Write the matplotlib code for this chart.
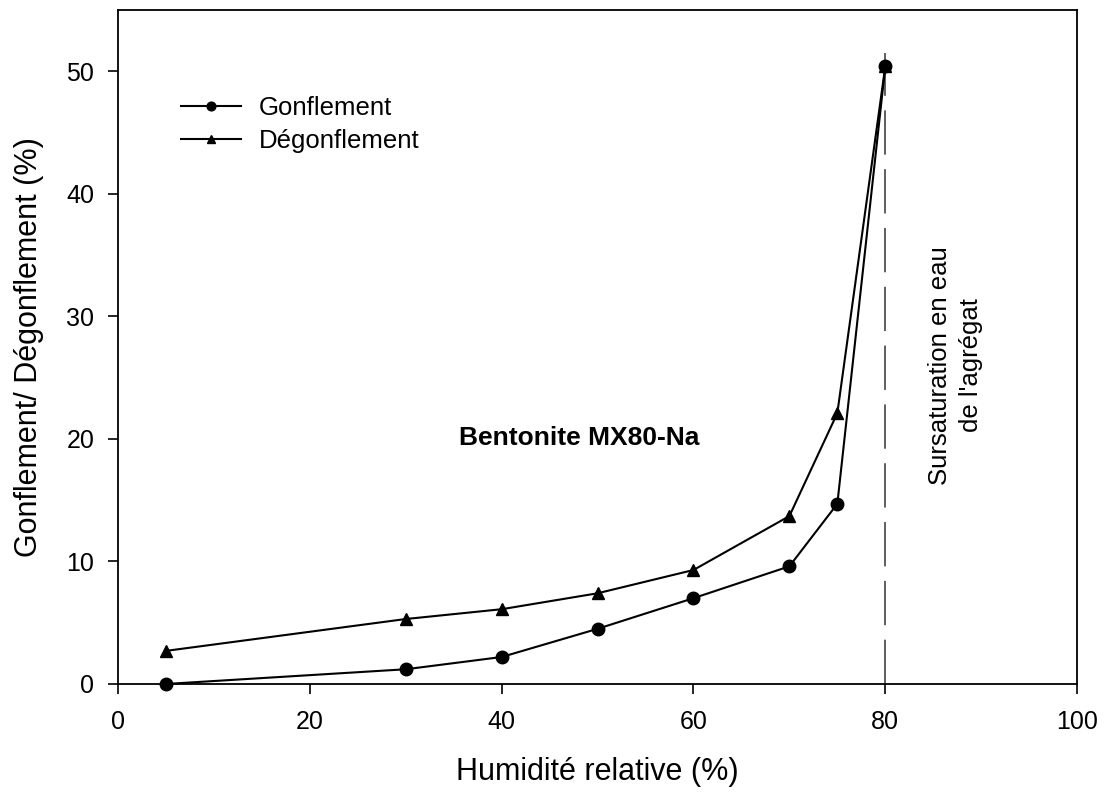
import matplotlib
matplotlib.use("Agg")
from matplotlib import pyplot as plt

plt.rcParams["font.family"] = ["Liberation Sans", "DejaVu Sans"]

# humidité relative (%) et gonflement / dégonflement (%)
hr = [5, 30, 40, 50, 60, 70, 75, 80]
gonflement = [0.0, 1.2, 2.2, 4.5, 7.0, 9.6, 14.7, 50.4]
degonflement = [2.7, 5.3, 6.1, 7.4, 9.3, 13.7, 22.1, 50.4]

fig = plt.figure(figsize=(11.07, 7.98), dpi=100)
ax = fig.add_axes([0.1066, 0.1429, 0.8664, 0.8446])

ax.plot(hr, gonflement, color="black", lw=1.5, marker="o", ms=9,
        label="Gonflement", clip_on=False, zorder=3)
ax.plot(hr, degonflement, color="black", lw=1.5, marker="^", ms=9,
        label="Dégonflement", clip_on=False, zorder=3)

# limite de sursaturation
ax.plot([80, 80], [0, 51.5], color="#333333", lw=1.1, linestyle=(0, (29, 9.5)), zorder=1)

ax.set_xlim(0, 100)
ax.set_ylim(0, 55)
ax.set_xticks([0, 20, 40, 60, 80, 100])
ax.set_yticks([0, 10, 20, 30, 40, 50])
ax.tick_params(direction="out", length=7, width=1.2, labelsize=18,
               top=False, right=False)
ax.tick_params(axis="x", pad=12)
ax.tick_params(axis="y", pad=10)
for s in ax.spines.values():
    s.set_linewidth(1.3)

ax.set_xlabel("Humidité relative (%)", fontsize=22, labelpad=16)
ax.set_ylabel("Gonflement/ Dégonflement (%)", fontsize=22, labelpad=16)

ax.text(35.6, 20.1, "Bentonite MX80-Na", fontsize=19, fontweight="bold",
        ha="left", va="center")
ax.text(87.3, 26.0, "Sursaturation en eau\nde l'agrégat", fontsize=18.5,
        rotation=90, ha="center", va="center", multialignment="center",
        linespacing=1.35)

ax.legend(loc="upper left", bbox_to_anchor=(0.042, 0.906), frameon=False,
          fontsize=18.5, markerscale=0.7, handlelength=2.3, handletextpad=0.7,
          labelspacing=0.35)

fig.savefig("out.png", dpi=100)
